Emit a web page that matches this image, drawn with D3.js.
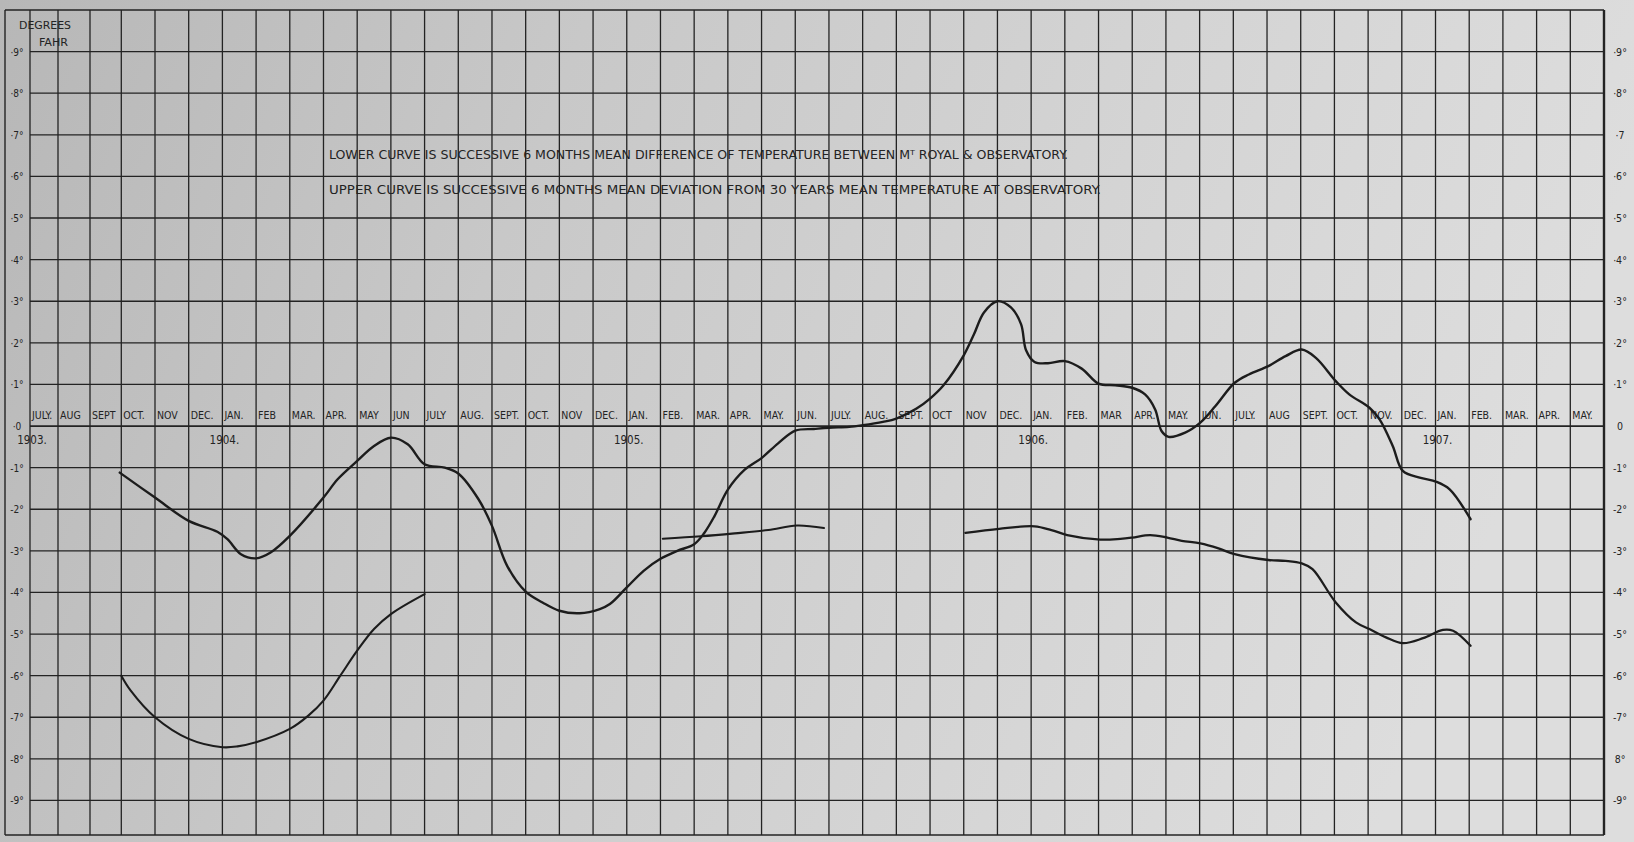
<!DOCTYPE html>
<html><head><meta charset="utf-8">
<script src="https://cdn.jsdelivr.net/npm/d3@7"></script>
<style>html,body{margin:0;padding:0;background:#c9c9c9;overflow:hidden}</style>
</head><body>
<svg id="chart" width="1634" height="842"></svg>
<script>
// ---------- DATA ----------
const monthLabels = [
  "JULY.","AUG","SEPT","OCT.","NOV","DEC.",
  "JAN.","FEB","MAR.","APR.","MAY","JUN","JULY","AUG.","SEPT.","OCT.","NOV","DEC.",
  "JAN.","FEB.","MAR.","APR.","MAY.","JUN.","JULY.","AUG.","SEPT.","OCT","NOV","DEC.",
  "JAN.","FEB.","MAR","APR.","MAY.","JUN.","JULY.","AUG","SEPT.","OCT.","NOV.","DEC.",
  "JAN.","FEB.","MAR.","APR.","MAY."
];
const yearLabels = ["1903.","1904.","1905.","1906.","1907."];
const yearMonthIndex = [0, 6, 18, 30, 42];

const tickValues = [0.9,0.8,0.7,0.6,0.5,0.4,0.3,0.2,0.1,0,-0.1,-0.2,-0.3,-0.4,-0.5,-0.6,-0.7,-0.8,-0.9];
const leftTickLabels  = ["·9°","·8°","·7°","·6°","·5°","·4°","·3°","·2°","·1°","·0","-1°","-2°","-3°","-4°","-5°","-6°","-7°","-8°","-9°"];
const rightTickLabels = ["·9°","·8°","·7","·6°","·5°","·4°","·3°","·2°","·1°","0","-1°","-2°","-3°","-4°","-5°","-6°","-7°","8°","-9°"];

const titleLines = [
  "LOWER CURVE IS SUCCESSIVE 6 MONTHS MEAN DIFFERENCE OF TEMPERATURE BETWEEN Mᵀ ROYAL & OBSERVATORY.",
  "UPPER CURVE IS SUCCESSIVE 6 MONTHS MEAN DEVIATION FROM 30 YEARS MEAN TEMPERATURE AT OBSERVATORY."
];

// Upper curve: 6-month mean deviation from 30-year mean (°F); x = months after July 1903
const upperMonths = [2.95,4,5,5.85,6.15,6.55,7,7.43,8,9,9.42,10,10.5,11,11.5,12,12.6,13,13.6,14,14.45,15,15.5,16,16.6,17.2,17.5,
  18,18.5,19,19.5,20,20.3,20.6,21,21.5,22,22.5,23,23.55,24,24.6,25,25.6,26,26.6,27,27.4,28,28.3,28.6,29,29.4,29.7,29.85,30.1,30.5,31,31.5,32,32.5,
  33,33.38,33.68,33.87,34.08,34.57,35.02,35.47,36.04,36.46,37.04,37.55,38.03,38.45,39.04,39.44,40.04,40.34,40.73,41.03,41.53,42.03,42.42,43.04];
const upperValues = [-0.112,-0.172,-0.228,-0.254,-0.272,-0.308,-0.318,-0.304,-0.264,-0.172,-0.128,-0.084,-0.048,-0.028,-0.044,-0.092,-0.100,-0.114,-0.176,-0.240,-0.336,-0.398,-0.424,-0.444,-0.450,-0.440,-0.428,
  -0.388,-0.348,-0.319,-0.300,-0.284,-0.257,-0.217,-0.153,-0.105,-0.077,-0.041,-0.011,-0.007,-0.004,-0.002,0.002,0.010,0.018,0.042,0.066,0.098,0.170,0.220,0.273,0.300,0.285,0.245,0.182,0.154,0.151,0.156,0.138,0.102,0.098,
  0.092,0.076,0.040,-0.012,-0.026,-0.016,0.008,0.048,0.104,0.124,0.144,0.168,0.184,0.164,0.108,0.076,0.044,0.016,-0.048,-0.108,-0.124,-0.134,-0.152,-0.224];

// Lower curve: 6-month mean difference Mt Royal - Observatory (°F), three separate pieces
const lowerAMonths = [3,3.28,4,5,6,6.45,7,8,8.55,9,9.5,10,10.5,11,12];
const lowerAValues = [-0.600,-0.636,-0.700,-0.752,-0.772,-0.770,-0.760,-0.728,-0.696,-0.660,-0.600,-0.540,-0.488,-0.452,-0.404];
const lowerBMonths = [19.07,20.2,21.2,22.2,23.05,23.85];
const lowerBValues = [-0.271,-0.265,-0.258,-0.250,-0.239,-0.245];
const lowerCMonths = [28.05,29.05,30.1,30.6,31.07,32.05,32.65,33,33.53,34.04,34.47,35.02,35.56,36.04,37.04,37.55,38.03,38.35,39.04,39.64,40.04,40.53,41.03,41.63,42.22,42.52,43.04];
const lowerCValues = [-0.257,-0.247,-0.241,-0.250,-0.262,-0.273,-0.271,-0.268,-0.262,-0.268,-0.276,-0.282,-0.294,-0.308,-0.322,-0.324,-0.330,-0.344,-0.424,-0.472,-0.488,-0.508,-0.522,-0.510,-0.490,-0.492,-0.528];

// ---------- DRAWING ----------
const svg = d3.select("#chart");
const ink = "#232323";
const FONT = "'DejaVu Sans Condensed','DejaVu Sans',sans-serif";

// background paper
const defs = svg.append("defs");
const grad = defs.append("linearGradient").attr("id","paper").attr("x1","0").attr("x2","1").attr("y1","0").attr("y2","0.2");
grad.append("stop").attr("offset","0").attr("stop-color","#b7b7b7");
grad.append("stop").attr("offset","0.35").attr("stop-color","#c8c8c8");
grad.append("stop").attr("offset","0.7").attr("stop-color","#d4d4d4");
grad.append("stop").attr("offset","1").attr("stop-color","#dddddd");
svg.append("rect").attr("width",1634).attr("height",842).attr("fill","url(#paper)");

const x = d3.scaleLinear().domain([0,1,2,3,47]).range([30,58,90,121.3,1604]);
const y = d3.scaleLinear().domain([-0.983, 1.0]).range([835, 10]);

const frameLeft = 5;
const g = svg.append("g");

// horizontal grid lines
g.selectAll("line.h").data(tickValues).join("line")
  .attr("x1", x(0)).attr("x2", x(47))
  .attr("y1", d => y(d)).attr("y2", d => y(d))
  .attr("stroke", ink).attr("stroke-width", d => d === 0 ? 1.8 : 1.3);

// top and bottom frame
[1.0, -0.983].forEach(v => {
  g.append("line").attr("x1", frameLeft).attr("x2", x(47))
    .attr("y1", y(v)).attr("y2", y(v)).attr("stroke", ink).attr("stroke-width", 1.5);
});
// left frame
g.append("line").attr("x1", frameLeft).attr("x2", frameLeft)
  .attr("y1", y(1.0)).attr("y2", y(-0.983)).attr("stroke", ink).attr("stroke-width", 1.4);

// vertical grid lines
g.selectAll("line.v").data(d3.range(48)).join("line")
  .attr("x1", d => x(d)).attr("x2", d => x(d))
  .attr("y1", y(1.0)).attr("y2", y(-0.983))
  .attr("stroke", ink).attr("stroke-width", d => d === 47 ? 2.4 : 1.3);

// month labels
g.selectAll("text.month").data(monthLabels).join("text")
  .attr("x", (d,i) => x(i) + 2).attr("y", y(0) - 7)
  .attr("font-family", FONT).attr("font-size", 10.5).attr("fill", ink)
  .text(d => d);

// year labels
g.selectAll("text.year").data(yearLabels).join("text")
  .attr("x", (d,i) => x(yearMonthIndex[i]) + 2).attr("y", y(0) + 18)
  .attr("text-anchor","middle")
  .attr("font-family", FONT).attr("font-size", 11.5).attr("fill", ink)
  .text(d => d);

// tick labels
g.selectAll("text.lt").data(tickValues).join("text")
  .attr("x", 17).attr("y", d => y(d) + 4).attr("text-anchor","middle")
  .attr("font-family", FONT).attr("font-size", 10).attr("fill", ink)
  .text((d,i) => leftTickLabels[i]);
g.selectAll("text.rt").data(tickValues).join("text")
  .attr("x", 1620).attr("y", d => y(d) + 4).attr("text-anchor","middle")
  .attr("font-family", FONT).attr("font-size", 10.5).attr("fill", ink)
  .text((d,i) => rightTickLabels[i]);

// units label
g.append("text").attr("x", 19).attr("y", 29).attr("font-family", FONT).attr("font-size", 10.5)
  .attr("fill", ink).attr("textLength", 52).attr("lengthAdjust","spacingAndGlyphs").text("DEGREES");
g.append("text").attr("x", 39).attr("y", 46).attr("font-family", FONT).attr("font-size", 10.5)
  .attr("fill", ink).attr("textLength", 29).attr("lengthAdjust","spacingAndGlyphs").text("FAHR");

// title lines
const titleY = [159, 194];
const titleW = [739, 772];
titleLines.forEach((t, i) => {
  g.append("text").attr("x", 329).attr("y", titleY[i])
    .attr("font-family", FONT).attr("font-size", 12).attr("fill", ink)
    .attr("textLength", titleW[i]).attr("lengthAdjust","spacingAndGlyphs")
    .text(t);
});

// curves
const line = d3.line().x(d => x(d[0])).y(d => y(d[1])).curve(d3.curveCatmullRom.alpha(0.5));
const series = [
  [upperMonths, upperValues, 2.4],
  [lowerAMonths, lowerAValues, 2.1],
  [lowerBMonths, lowerBValues, 2.1],
  [lowerCMonths, lowerCValues, 2.3]
];
series.forEach(([ms, vs, w]) => {
  g.append("path").datum(d3.zip(ms, vs))
    .attr("d", line).attr("fill","none")
    .attr("stroke", "#1c1c1c").attr("stroke-width", w)
    .attr("stroke-linejoin","round").attr("stroke-linecap","round");
});
</script>
</body></html>
